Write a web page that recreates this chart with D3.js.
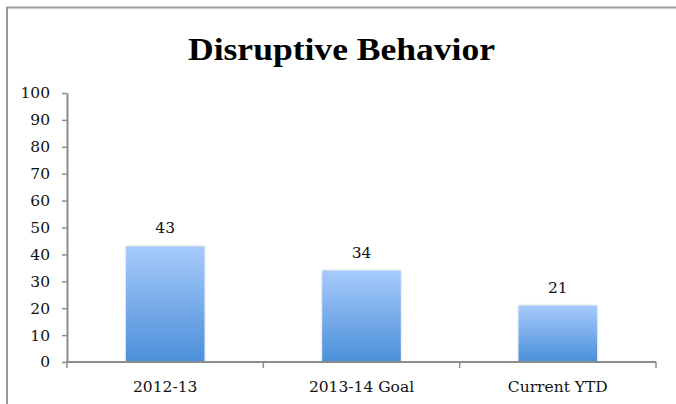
<!DOCTYPE html>
<html>
<head>
<meta charset="utf-8">
<script src="https://cdn.jsdelivr.net/npm/d3@7"></script>
<style>
  html, body { margin: 0; padding: 0; background: #fff; }
  svg { display: block; }
</style>
</head>
<body>
<svg id="chart" width="676" height="404"></svg>
<script>
// Chart data
const categories = ["2012-13", "2013-14 Goal", "Current YTD"];
const values = [43, 34, 21];
const yTicks = [0, 10, 20, 30, 40, 50, 60, 70, 80, 90, 100];
const title = "Disruptive Behavior";

const W = 676, H = 404;
const margin = { left: 67, right: 20, top: 93, bottom: 42 };
const plotRight = 656;
const plotBottom = 362;

const svg = d3.select("#chart");

// Gradient for the bars: light blue at the top, deeper blue at the base
const defs = svg.append("defs");
const grad = defs.append("linearGradient")
  .attr("id", "barGrad")
  .attr("x1", 0).attr("y1", 0).attr("x2", 0).attr("y2", 1);
grad.append("stop").attr("offset", "0%").attr("stop-color", "#a7cafb");
grad.append("stop").attr("offset", "100%").attr("stop-color", "#4b8fd9");

const shadow = defs.append("filter").attr("id", "barShadow")
  .attr("x", "-10%").attr("y", "-5%").attr("width", "120%").attr("height", "110%");
shadow.append("feGaussianBlur").attr("in", "SourceAlpha").attr("stdDeviation", 1.2).attr("result", "b");
shadow.append("feComponentTransfer").attr("in", "b").attr("result", "s")
  .append("feFuncA").attr("type", "linear").attr("slope", 0.25);
const merge = shadow.append("feMerge");
merge.append("feMergeNode").attr("in", "s");
merge.append("feMergeNode").attr("in", "SourceGraphic");

// Frame (top and left edges of the chart area)
svg.append("path")
  .attr("d", `M7,${H + 5} L7,7.5 L${W + 5},7.5`)
  .attr("fill", "none")
  .attr("stroke", "#9a9a9a")
  .attr("stroke-width", 2);

// Title
svg.append("text")
  .attr("x", 341.5)
  .attr("y", 59.5)
  .attr("text-anchor", "middle")
  .attr("font-family", "'Liberation Serif', 'DejaVu Serif', serif")
  .attr("font-weight", "bold")
  .attr("font-size", 31)
  .attr("textLength", 307)
  .attr("lengthAdjust", "spacingAndGlyphs")
  .attr("fill", "#000")
  .text(title);

// Scales
const x = d3.scaleBand()
  .domain(categories)
  .range([margin.left, plotRight])
  .paddingInner(0.6)
  .paddingOuter(0.3);

const y = d3.scaleLinear()
  .domain([0, 100])
  .range([plotBottom, margin.top]);

const axisColor = "#8c8c8c";
const labelFont = "'DejaVu Serif', 'Liberation Serif', serif";
const labelSize = 15.5;

// Y axis
const yAxis = svg.append("g")
  .attr("transform", `translate(${margin.left},0)`)
  .call(d3.axisLeft(y).tickValues(yTicks).tickSize(5).tickSizeOuter(0).tickPadding(12));
yAxis.select(".domain").attr("stroke", axisColor).attr("stroke-width", 2);
yAxis.selectAll(".tick line").attr("stroke", axisColor).attr("stroke-width", 1.5);
yAxis.selectAll(".tick text")
  .attr("font-family", labelFont)
  .attr("font-size", labelSize)
  .attr("fill", "#111");

// Bars
svg.append("g")
  .selectAll("rect")
  .data(values)
  .join("rect")
  .attr("x", (d, i) => x(categories[i]))
  .attr("y", d => y(d))
  .attr("width", x.bandwidth())
  .attr("height", d => y(0) - y(d))
  .attr("fill", "url(#barGrad)")
  .attr("filter", "url(#barShadow)");

// Value labels
svg.append("g")
  .selectAll("text")
  .data(values)
  .join("text")
  .attr("x", (d, i) => x(categories[i]) + x.bandwidth() / 2)
  .attr("y", d => y(d) - 13)
  .attr("text-anchor", "middle")
  .attr("font-family", labelFont)
  .attr("font-size", labelSize)
  .attr("fill", "#111")
  .text(d => d);

// X axis with boundary ticks between categories
const boundaries = d3.range(categories.length + 1).map(i => margin.left + i * (plotRight - margin.left) / categories.length);
const xg = svg.append("g");
xg.append("line")
  .attr("x1", margin.left - 1).attr("x2", plotRight)
  .attr("y1", plotBottom).attr("y2", plotBottom)
  .attr("stroke", axisColor).attr("stroke-width", 2);
xg.selectAll("line.tick")
  .data(boundaries)
  .join("line")
  .attr("class", "tick")
  .attr("x1", d => d).attr("x2", d => d)
  .attr("y1", plotBottom).attr("y2", plotBottom + 6)
  .attr("stroke", axisColor).attr("stroke-width", 1.5);
xg.selectAll("text")
  .data(categories)
  .join("text")
  .attr("x", d => x(d) + x.bandwidth() / 2)
  .attr("y", 392)
  .attr("text-anchor", "middle")
  .attr("font-family", labelFont)
  .attr("font-size", labelSize)
  .attr("fill", "#111")
  .text(d => d);
</script>
</body>
</html>
